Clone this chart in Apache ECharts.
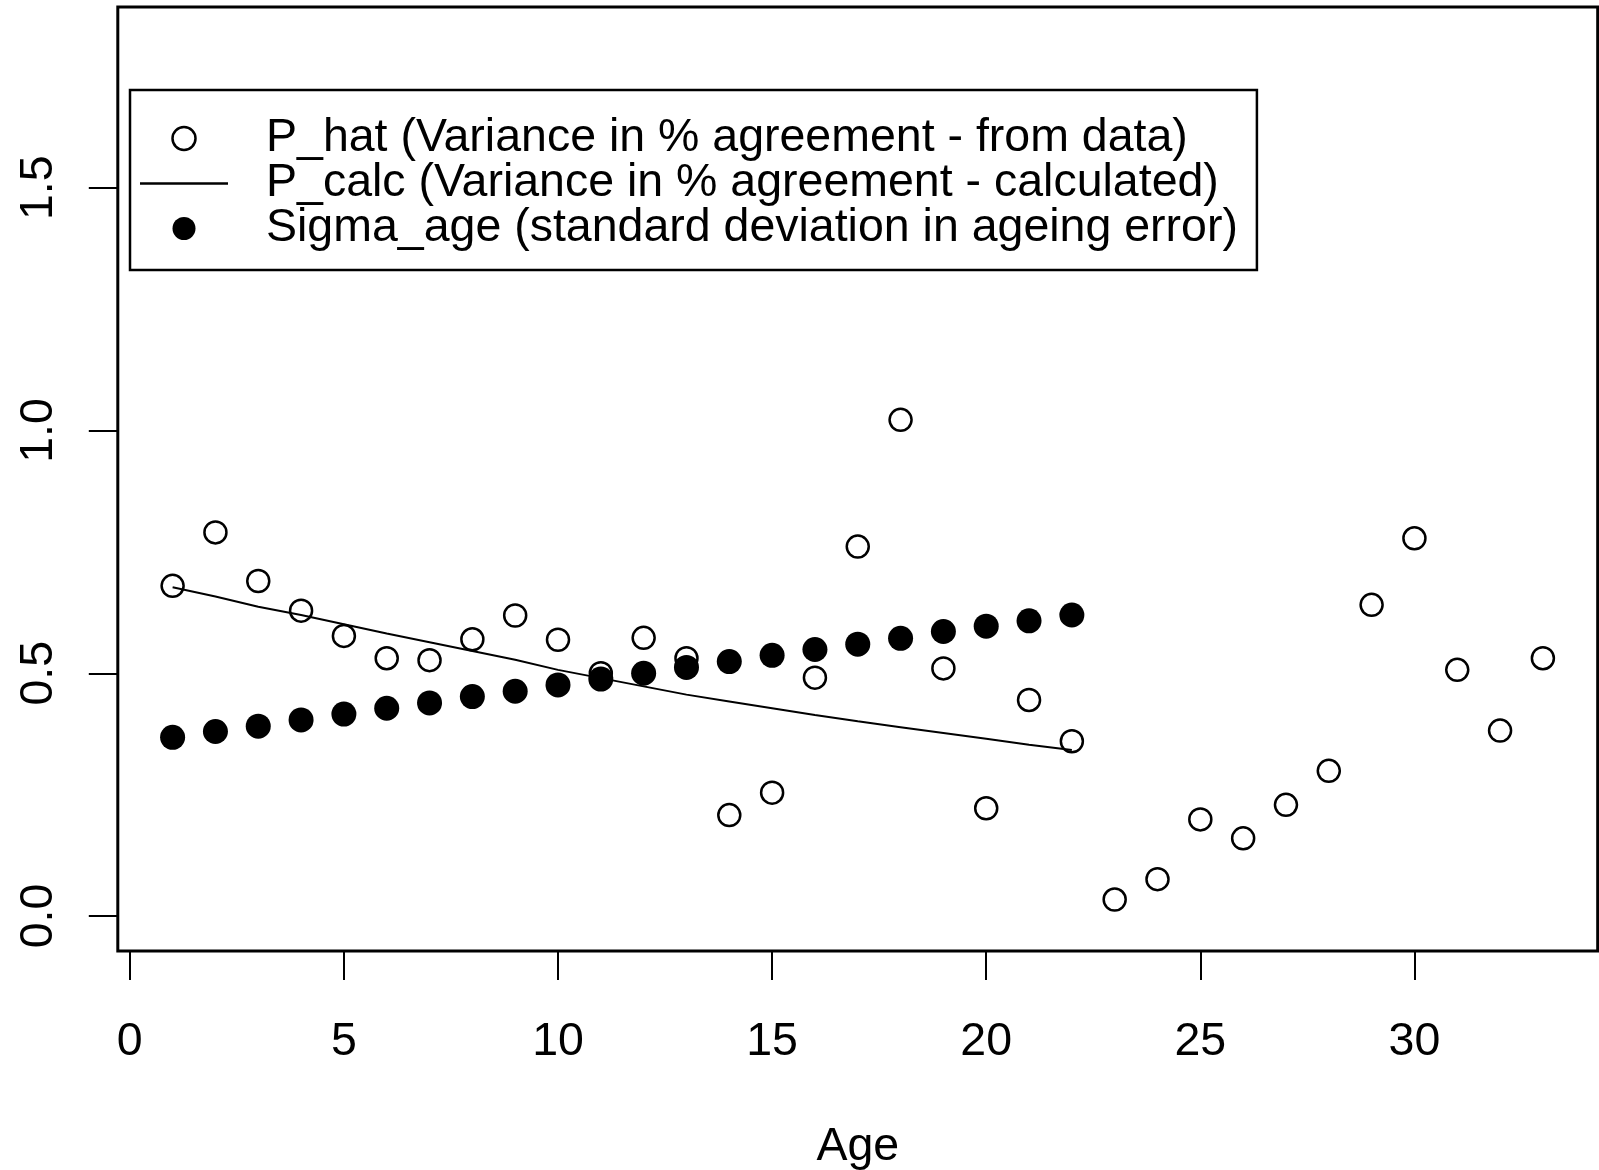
<!DOCTYPE html>
<html>
<head>
<meta charset="utf-8">
<title>Ageing error by age</title>
<script src="https://cdn.jsdelivr.net/npm/echarts@6/dist/echarts.min.js"></script>
<style>
  html, body { margin: 0; padding: 0; background: #fff; }
  #chart { width: 1599px; height: 1170px; }
</style>
</head>
<body>
<div id="chart"></div>
<script>
// Ages with observed variance in percent agreement
const ages = [1, 2, 3, 4, 5, 6, 7, 8, 9, 10, 11, 12, 13, 14, 15, 16, 17, 18, 19, 20, 21, 22,
              23, 24, 25, 26, 27, 28, 29, 30, 31, 32, 33];
const pHat = [0.680, 0.790, 0.690, 0.629, 0.577, 0.531, 0.527, 0.570, 0.619, 0.569, 0.500,
              0.573, 0.531, 0.208, 0.254, 0.491, 0.761, 1.022, 0.510, 0.222, 0.445, 0.360,
              0.034, 0.076, 0.199, 0.160, 0.229, 0.299, 0.641, 0.778, 0.507, 0.382, 0.531];

// Ages covered by the fitted model
const modelAges = [1, 2, 3, 4, 5, 6, 7, 8, 9, 10, 11, 12, 13, 14, 15, 16, 17, 18, 19, 20, 21, 22];
const pCalc = [0.677, 0.658, 0.637, 0.620, 0.601, 0.582, 0.564, 0.546, 0.528, 0.507, 0.490,
               0.473, 0.456, 0.442, 0.428, 0.414, 0.401, 0.389, 0.377, 0.365, 0.353, 0.342];
const sigmaAge = [0.368, 0.380, 0.391, 0.404, 0.416, 0.428, 0.439, 0.452, 0.463, 0.476, 0.488,
                  0.500, 0.512, 0.524, 0.537, 0.549, 0.560, 0.572, 0.586, 0.597, 0.608, 0.620];

// Tick positions
const xTicks = [0, 5, 10, 15, 20, 25, 30];
const yTicks = [0, 0.5, 1.0, 1.5];

const names = {
  hat: 'P_hat (Variance in % agreement - from data)',
  calc: 'P_calc (Variance in % agreement - calculated)',
  sigma: 'Sigma_age (standard deviation in ageing error)'
};

const FONT = "'Liberation Sans', Arial, Helvetica, sans-serif";
const FS = 46.5;
const pair = (xs, ys) => xs.map((x, i) => [x, ys[i]]);

const chart = echarts.init(document.getElementById('chart'), null, { renderer: 'canvas' });

chart.setOption({
  backgroundColor: '#ffffff',
  animation: false,
  textStyle: { fontFamily: FONT, color: '#000' },
  grid: {
    left: 117.8, right: 1.3, top: 7.1, bottom: 219,
    containLabel: false,
    outerBoundsMode: 'none',
    show: true, borderColor: '#000', borderWidth: 3, backgroundColor: 'transparent'
  },
  xAxis: {
    type: 'value',
    min: -0.28, max: 34.28,
    name: 'Age',
    nameLocation: 'middle',
    nameGap: 173,
    nameTextStyle: { fontSize: FS, fontFamily: FONT, color: '#000' },
    splitLine: { show: false },
    axisLine: { show: false, onZero: false },
    axisTick: { show: true, inside: false, length: 29, customValues: xTicks, lineStyle: { color: '#000', width: 2 } },
    axisLabel: { show: true, margin: 68, fontSize: FS, fontFamily: FONT, color: '#000', customValues: xTicks }
  },
  yAxis: {
    type: 'value',
    min: -0.072, max: 1.872,
    splitLine: { show: false },
    axisLine: { show: false, onZero: false },
    axisTick: { show: true, inside: false, length: 29, customValues: yTicks, lineStyle: { color: '#000', width: 2 } },
    axisLabel: {
      show: true, rotate: 90, margin: 55, fontSize: FS, fontFamily: FONT, color: '#000',
      customValues: yTicks,
      formatter: v => Number(v).toFixed(1)
    }
  },
  legend: {
    orient: 'vertical',
    left: 130, top: 90,
    padding: [25, 19, 18, 10],
    backgroundColor: '#fff',
    borderColor: '#000',
    borderWidth: 2.5,
    itemWidth: 88,
    itemHeight: 23,
    itemGap: -2,
    selectedMode: false,
    textStyle: { fontSize: FS, lineHeight: 44, fontFamily: FONT, color: '#000', padding: [0, 0, 0, 33] },
    data: [
      { name: names.hat, icon: 'circle',
        itemStyle: { color: 'rgba(0,0,0,0)', borderColor: '#000', borderWidth: 2.5, opacity: 1 } },
      { name: names.calc, icon: 'path://M0,0h88v2.5h-88z',
        itemStyle: { color: '#000', borderWidth: 0, opacity: 1 } },
      { name: names.sigma, icon: 'circle',
        itemStyle: { color: '#000', borderWidth: 0, opacity: 1 } }
    ]
  },
  series: [
    {
      name: names.hat,
      type: 'scatter',
      data: pair(ages, pHat),
      symbol: 'circle',
      symbolSize: 22,
      itemStyle: { color: 'rgba(0,0,0,0)', borderColor: '#000', borderWidth: 2.5, opacity: 1 },
      emphasis: { disabled: true }
    },
    {
      name: names.calc,
      type: 'line',
      data: pair(modelAges, pCalc),
      symbol: 'none',
      showSymbol: false,
      lineStyle: { color: '#000', width: 2 },
      itemStyle: { color: '#000' },
      emphasis: { disabled: true }
    },
    {
      name: names.sigma,
      type: 'scatter',
      data: pair(modelAges, sigmaAge),
      symbol: 'circle',
      symbolSize: 25,
      itemStyle: { color: '#000', borderWidth: 0, opacity: 1 },
      emphasis: { disabled: true }
    }
  ]
});
</script>
</body>
</html>
